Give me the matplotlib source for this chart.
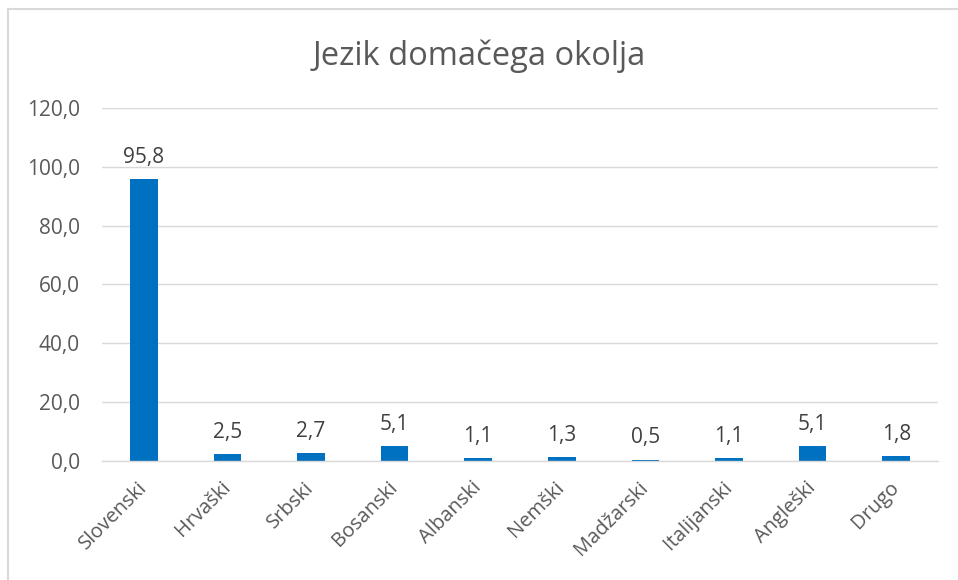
import matplotlib
matplotlib.use("Agg")
import matplotlib.pyplot as plt
from matplotlib.lines import Line2D

categories = ["Slovenski", "Hrvaški", "Srbski", "Bosanski", "Albanski",
              "Nemški", "Madžarski", "Italijanski", "Angleški", "Drugo"]
values = [95.8, 2.5, 2.7, 5.1, 1.1, 1.3, 0.5, 1.1, 5.1, 1.8]
yticks = [0, 20, 40, 60, 80, 100, 120]
title = "Jezik domačega okolja"

plt.rcParams['font.family'] = ['Open Sans', 'DejaVu Sans']

fig = plt.figure(figsize=(9.58, 5.8), dpi=100)
left, right = 102 / 958, 938 / 958
ax = fig.add_axes([left, 0.2052, right - left, 0.8138 - 0.2052])

x = list(range(len(categories)))
ax.bar(x, values, width=0.33, color="#0070C0", zorder=3)
ax.set_xlim(-0.5, len(categories) - 0.5)
ax.set_ylim(0, 120)
ax.set_yticks(yticks)
ax.set_yticklabels([f"{v:.1f}".replace(".", ",") for v in yticks],
                   fontsize=15, color="#595959")
ax.set_xticks(x)
ax.set_xticklabels(categories, rotation=45, ha="right", va="center",
                   rotation_mode="anchor", fontsize=14.5, color="#595959")
ax.tick_params(axis="x", length=0, pad=17)
ax.tick_params(axis="y", length=0, pad=16)
ax.grid(axis="y", color="#D9D9D9", linewidth=1, zorder=0)
for s in ["top", "right", "left"]:
    ax.spines[s].set_visible(False)
ax.spines["bottom"].set_color("#D9D9D9")
ax.spines["bottom"].set_linewidth(1)
ax.spines["bottom"].set_zorder(4)

for xi, v in zip(x, values):
    ax.annotate(f"{v:.1f}".replace(".", ","), (xi, v), xytext=(0, 8),
                textcoords="offset points", ha="center", va="bottom",
                fontsize=15, color="#404040")

fig.text(0.5, 1 - 56 / 580, title, ha="center", va="center",
         fontsize=23.5, color="#595959")

# chart border (partial, as in reference)
fig.add_artist(Line2D([7.5 / 958, 7.5 / 958], [0, 1 - 9 / 580],
                      transform=fig.transFigure, color="#D9D9D9", linewidth=1.5))
fig.add_artist(Line2D([7.5 / 958, 1], [1 - 9 / 580, 1 - 9 / 580],
                      transform=fig.transFigure, color="#D9D9D9", linewidth=1.5))

fig.savefig("out.png", dpi=100)
